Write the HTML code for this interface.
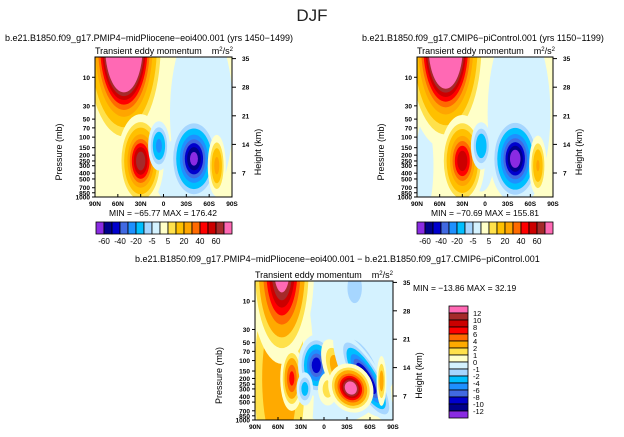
<!DOCTYPE html>
<html><head><meta charset="utf-8">
<style>
html,body{margin:0;padding:0;background:#fff;width:624px;height:437px;overflow:hidden;}
svg{display:block;font-family:"Liberation Sans",sans-serif;}
</style></head>
<body>
<svg id="fig" width="624" height="437" viewBox="0 0 624 437" xmlns="http://www.w3.org/2000/svg">
<text x="312" y="21" font-size="17" text-anchor="middle" fill="#222">DJF</text>
<text x="5" y="41" font-size="9" fill="#000">b.e21.B1850.f09_g17.PMIP4−midPliocene−eoi400.001  (yrs 1450−1499)</text>
<text x="362" y="41" font-size="9" fill="#000">b.e21.B1850.f09_g17.CMIP6−piControl.001  (yrs 1150−1199)</text>
<text x="135" y="262" font-size="9" fill="#000">b.e21.B1850.f09_g17.PMIP4−midPliocene−eoi400.001 − b.e21.B1850.f09_g17.CMIP6−piControl.001</text>
<g id="panels"></g>
</svg>
<script>
// contour levels and colours
const topNegLevels = [0, -5, -10, -20, -30, -40, -50, -60];
const topPosLevels = [0, 5, 10, 20, 30, 40, 50, 60, 70];
const difNegLevels = [0, -1, -2, -4, -6, -8, -10, -12];
const difPosLevels = [0, 1, 2, 4, 6, 8, 10, 12];
const negColors = ["#d4f2ff","#a6d6ff","#00bfff","#1e90ff","#4169e1","#0000cd","#00008b","#8a2be2"];
const posColorsTop = ["#ffffc8","#ffe14b","#ffc000","#ffa500","#ff6a00","#ff0000","#cc0000","#a52a2a","#ff69b4"];
const posColorsDif = ["#ffffc8","#ffe14b","#ffaa00","#ff6a00","#ff0000","#cc0000","#a52a2a","#ff69b4"];
const topTickLabels = ["-60","-40","-20","-5","5","20","40","60"];
const difTickLabels = ["12","10","8","6","4","2","1","0","-1","-2","-4","-6","-8","-10","-12"];
const latTicks = ["90N","60N","30N","0","30S","60S","90S"];
const presTicks = [10,30,50,70,100,150,200,250,300,400,500,700,850,1000];
const heightTicks = [7,14,21,28,35];
// features: lat (deg, +N), pressure (mb), peak value, lat width (deg), ln-p width, rotation (deg)
const leftLat = [-50, -20, 38, 52, 30, 6, -40, -70];
const leftP   = [40, 400, 80, 3, 250, 140, 230, 300];
const leftV   = [-4.5, -3.5, 12, 180, 70, -25, -66, 25];
const leftSx  = [28, 25, 14, 18, 11, 6, 12, 5];
const leftSy  = [2.4, 1.0, 1.1, 1.3, 0.65, 0.4, 0.6, 0.5];
const rightLat = [-45, 80, 5, 38, 52, 30, 5, -40, -70];
const rightP   = [40, 300, 250, 80, 3, 250, 140, 230, 300];
const rightV   = [-4.5, -3, -3, 12, 156, 60, -20, -71, 22];
const rightSx  = [28, 10, 14, 14, 18, 11, 6, 12, 5];
const rightSy  = [2.4, 1.5, 1.0, 1.1, 1.3, 0.65, 0.4, 0.6, 0.5];
const difLat = [-15, 58, 55, 42, 10, 25, -5, -18, -50, -40, -55, -35, -75];
const difP   = [30, 200, 3, 200, 120, 300, 300, 140, 140, 6, 200, 290, 220];
const difV   = [-0.95, 3.8, 15, 7, -10, -3, 1.6, 3.5, -2.2, -2, -13, 16, 3];
const difSx  = [60, 20, 15, 6, 9, 5, 7, 8, 14, 8, 7, 10, 3];
const difSy  = [2.4, 2.4, 1.3, 0.5, 0.45, 0.3, 0.35, 0.55, 1.0, 0.5, 0.7, 0.35, 0.45];
const difRot = [0, 0, 0, 0, 0, 0, 0, -20, -25, 0, -30, -30, 0];

const NS="http://www.w3.org/2000/svg";
const root=document.getElementById('panels');
function mk(tag,attrs,parent){const e=document.createElementNS(NS,tag);for(const k in attrs)e.setAttribute(k,attrs[k]);(parent||root).appendChild(e);return e;}

function panel(id,x0,x1,y0,y1,lat,p,v,sx,sy,rot,negL,posL,posC,minmax,label){
  const w=x1-x0,h=y1-y0;
  const xLat=la=>x0+(90-la)/180*w;
  const lnScale=26*h/140;
  const yP=pp=>y1-lnScale*Math.log(1000/pp);
  const g=mk('g',{});
  
  
  const inner=mk('svg',{x:x0,y:y0,width:w,height:h,viewBox:x0+' '+y0+' '+w+' '+h,overflow:'hidden'},g);
  
  
  mk('rect',{x:x0,y:y0,width:w,height:h,fill:posC[0]},inner);
  for(let i=0;i<lat.length;i++){
    const val=v[i],neg=val<0,levels=neg?negL:posL,cols=neg?negColors:posC;
    const cx=xLat(lat[i]),cy=yP(p[i]);
    for(let k=0;k<levels.length;k++){
      let L=Math.abs(levels[k]);
      if(L===0)L=Math.abs(levels[1])*0.3;
      if(Math.abs(val)<=L)break;
      const f=Math.sqrt(2*Math.log(Math.abs(val)/L));
      const el=mk('ellipse',{cx:cx,cy:cy,rx:sx[i]*w/180*f,ry:sy[i]*lnScale*f,fill:cols[k],
        transform:'rotate('+((rot&&rot[i])||0)+' '+cx+' '+cy+')'},inner);
      
      
    }
  }
  mk('rect',{x:x0,y:y0,width:w,height:h,fill:'none',stroke:'#000','stroke-width':1},g);
  latTicks.forEach((t,i)=>{const x=x0+i*w/6;
    mk('line',{x1:x,x2:x,y1:y1,y2:y1-3,stroke:'#000'},g);
    const tx=mk('text',{x:x,y:y1+9,'font-size':6.5,'font-weight':'bold','text-anchor':'middle'},g);tx.textContent=t;
    
    });
  presTicks.forEach(pp=>{const y=yP(pp);
    mk('line',{x1:x0,x2:x0-3,y1:y,y2:y,stroke:'#000'},g);
    const tx=mk('text',{x:x0-5,y:y+2.5,'font-size':6.5,'font-weight':'bold','text-anchor':'end'},g);tx.textContent=pp;
    
    });
  heightTicks.forEach((hk,i)=>{const y=y1-24-(hk/7-1)*28.6*h/140;
    mk('line',{x1:x1,x2:x1+4,y1:y,y2:y,stroke:'#000'},g);
    const tx=mk('text',{x:x1+10,y:y+2.5,'font-size':6.5,'font-weight':'bold'},g);tx.textContent=hk;
    
    });
  const yl=mk('text',{x:0,y:0,'font-size':9,'text-anchor':'middle',transform:'translate('+(x0-33)+','+(y0+h/2+25)+') rotate(-90)'},g);
  yl.textContent='Pressure (mb)';
  
  
  const yr=mk('text',{x:0,y:0,'font-size':9,'text-anchor':'middle',transform:'translate('+(x1+29)+','+(y0+h/2+25)+') rotate(-90)'},g);
  yr.textContent='Height (km)';
  
  
  const tt=mk('text',{x:x0,y:y0-3,'font-size':9},g);
  tt.innerHTML='Transient eddy momentum &#160;&#160; m<tspan dy="-3" font-size="6">2</tspan><tspan dy="3">/s</tspan><tspan dy="-3" font-size="6">2</tspan>';
  
  
  if(label){const m=mk('text',{x:label[0],y:label[1],'font-size':8.5,'text-anchor':label[2]},g);m.textContent=minmax;
    
    }
}
function hbar(x0,x1,y0){
  const cols=negColors.slice().reverse().concat(posColorsTop);
  const bw=(x1-x0)/cols.length;
  const g=mk('g',{});
  
  
  cols.forEach((c,i)=>{mk('rect',{x:x0+i*bw,y:y0,width:bw,height:12,fill:c,stroke:'#000','stroke-width':0.8},g);});
  topTickLabels.forEach((t,i)=>{const tx=mk('text',{x:x0+(1+2*i)*bw,y:y0+22,'font-size':8,'text-anchor':'middle'},g);tx.textContent=t;
    
    });
}
function vbar(x0,y0,y1){
  const cols=posColorsDif.slice().reverse().concat(negColors);
  const bh=(y1-y0)/cols.length;
  const g=mk('g',{});
  
  
  cols.forEach((c,i)=>{mk('rect',{x:x0,y:y0+i*bh,width:19,height:bh,fill:c,stroke:'#000','stroke-width':0.8},g);});
  difTickLabels.forEach((t,i)=>{const tx=mk('text',{x:x0+24,y:y0+(i+1)*bh+3,'font-size':7.5},g);tx.textContent=t;
    
    });
}
panel('left',95,232,57,197,leftLat,leftP,leftV,leftSx,leftSy,null,topNegLevels,topPosLevels,posColorsTop,'MIN = −65.77   MAX = 176.42',[163,216,'middle']);
panel('right',417,553,57,197,rightLat,rightP,rightV,rightSx,rightSy,null,topNegLevels,topPosLevels,posColorsTop,'MIN = −70.69   MAX = 155.81',[485,216,'middle']);
panel('diff',255,393,281,420,difLat,difP,difV,difSx,difSy,difRot,difNegLevels,difPosLevels,posColorsDif,'MIN = −13.86   MAX = 32.19',[413,291,'start']);
hbar(96,232,222);
hbar(417,553,222);
vbar(449,306,418);
</script>
</body></html>
